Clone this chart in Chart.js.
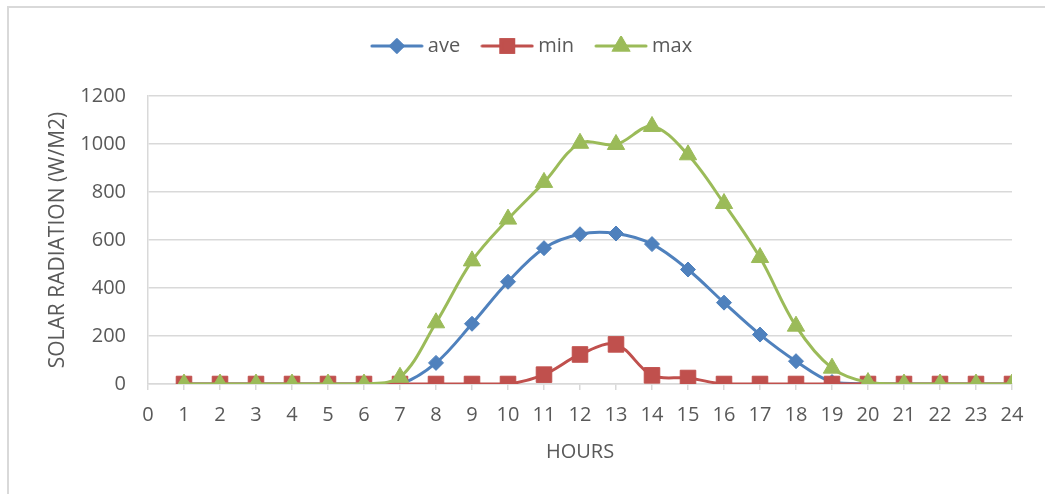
<!DOCTYPE html>
<html>
<head>
<meta charset="utf-8">
<script src="https://cdn.jsdelivr.net/npm/chart.js@4.4.0/dist/chart.umd.min.js"></script>
<style>
  html, body { margin: 0; padding: 0; background: #fff; }
  #wrap { width: 1045px; height: 494px; position: relative; }
</style>
</head>
<body>
<div id="wrap"><canvas id="solarChart"></canvas></div>
<script>
// hourly solar radiation (W/m2)
const hours = [1, 2, 3, 4, 5, 6, 7, 8, 9, 10, 11, 12, 13, 14, 15, 16, 17, 18, 19, 20, 21, 22, 23, 24];
const aveValues = [0, 0, 0, 0, 0, 0, 0, 88, 251, 426, 566, 624, 627, 583, 477, 339, 206, 95, 8, 0, 0, 0, 0, 0];
const minValues = [0, 0, 0, 0, 0, 0, 0, 0, 0, 0, 39, 123, 165, 36, 25, 0, 0, 0, 0, 0, 0, 0, 0, 0];
const maxValues = [0, 0, 0, 0, 0, 0, 28, 255, 513, 687, 840, 1003, 998, 1073, 955, 752, 527, 241, 66, 6, 0, 0, 0, 0];
const yTicks = [0, 200, 400, 600, 800, 1000, 1200];

const textColor = '#595959';
const gridColor = '#d9d9d9';
const fontFamily = '"Open Sans", "Liberation Sans", sans-serif';

function toPoints(values) {
    return hours.map((h, i) => ({ x: h, y: values[i] }));
}

// small canvas with line + marker for the legend
function legendIcon(color, style, radius) {
    const c = document.createElement('canvas');
    c.width = 54;
    c.height = 20;
    const ctx = c.getContext('2d');
    ctx.strokeStyle = color;
    ctx.lineWidth = 3;
    ctx.lineCap = 'round';
    ctx.beginPath();
    ctx.moveTo(2, 10);
    ctx.lineTo(52, 10);
    ctx.stroke();
    ctx.fillStyle = color;
    Chart.helpers.drawPoint(ctx, { pointStyle: style, radius: radius, borderWidth: 1, rotation: 0 }, 27, 10);
    ctx.fill();
    ctx.stroke();
    return c;
}

const series = [
    { label: 'ave', values: aveValues, color: '#4F81BD', style: 'rectRot', radius: 7.5, legendRadius: 6 },
    { label: 'min', values: minValues, color: '#C0504D', style: 'rect', radius: 11, legendRadius: 9 },
    { label: 'max', values: maxValues, color: '#9BBB59', style: 'triangle', radius: 10, legendRadius: 8 }
];

const datasets = series.map((s, i) => ({
    label: s.label,
    data: toPoints(s.values),
    borderColor: s.color,
    backgroundColor: s.color,
    borderWidth: 3,
    tension: 0.35,
    pointStyle: s.style,
    pointRadius: s.radius,
    pointBorderWidth: 1,
    pointBackgroundColor: s.color,
    pointBorderColor: s.color,
    order: series.length - i
}));

const icons = series.map(s => legendIcon(s.color, s.style, s.legendRadius));

const frame = {
    id: 'frame',
    beforeDraw(chart) {
        const ctx = chart.ctx;
        ctx.save();
        ctx.fillStyle = '#fff';
        ctx.fillRect(0, 0, chart.width, chart.height);
        ctx.strokeStyle = gridColor;
        ctx.lineWidth = 2;
        ctx.strokeRect(8, 7, chart.width + 20, chart.height + 20);
        ctx.restore();
    },
    afterLayout(chart) {
        // nudge legend to sit where the original one is
        if (chart.legend) {
            chart.legend.left += 56;
            chart.legend.top -= 30;
            chart.legend.bottom -= 30;
        }
    }
};

new Chart(document.getElementById('solarChart'), {
    type: 'line',
    data: { datasets: datasets },
    plugins: [frame],
    options: {
        responsive: true,
        maintainAspectRatio: false,
        animation: false,
        layout: { padding: { left: 0, right: 33, top: 40, bottom: 30 } },
        plugins: {
            tooltip: { enabled: false },
            legend: {
                position: 'top',
                labels: {
                    usePointStyle: true,
                    pointStyleWidth: 42,
                    padding: 26,
                    color: textColor,
                    font: { family: fontFamily, size: 20 },
                    generateLabels: () => series.map((s, i) => ({
                        text: s.label,
                        pointStyle: icons[i],
                        fillStyle: s.color,
                        strokeStyle: s.color,
                        fontColor: textColor,
                        lineWidth: 0,
                        datasetIndex: i,
                        hidden: false
                    }))
                }
            }
        },
        scales: {
            x: {
                type: 'linear',
                min: 0,
                max: 24,
                afterBuildTicks: scale => {
                    scale.ticks = [0].concat(hours).map(v => ({ value: v }));
                },
                ticks: {
                    stepSize: 1,
                    autoSkip: false,
                    maxRotation: 0,
                    padding: 13,
                    color: textColor,
                    font: { family: fontFamily, size: 20 },
                    callback: v => String(v)
                },
                grid: {
                    drawOnChartArea: false,
                    drawTicks: true,
                    tickLength: 6,
                    color: gridColor,
                    lineWidth: 1.5
                },
                border: { color: gridColor, width: 1.5 },
                title: {
                    display: true,
                    text: 'HOURS',
                    color: textColor,
                    font: { family: fontFamily, size: 20 },
                    padding: { top: 0, bottom: 0 }
                }
            },
            y: {
                min: 0,
                max: 1200,
                afterBuildTicks: scale => {
                    scale.ticks = yTicks.map(v => ({ value: v }));
                },
                afterFit: scale => {
                    scale.width = 148;
                },
                ticks: {
                    padding: 22,
                    color: textColor,
                    font: { family: fontFamily, size: 20 },
                    callback: v => String(v)
                },
                grid: {
                    drawTicks: false,
                    color: gridColor,
                    lineWidth: 1.5
                },
                border: { color: gridColor, width: 1.5 },
                title: {
                    display: true,
                    text: 'SOLAR RADIATION (W/M2)',
                    color: textColor,
                    font: { family: fontFamily, size: 21 },
                    padding: { top: 45, bottom: 0 }
                }
            }
        }
    }
});
</script>
</body>
</html>
